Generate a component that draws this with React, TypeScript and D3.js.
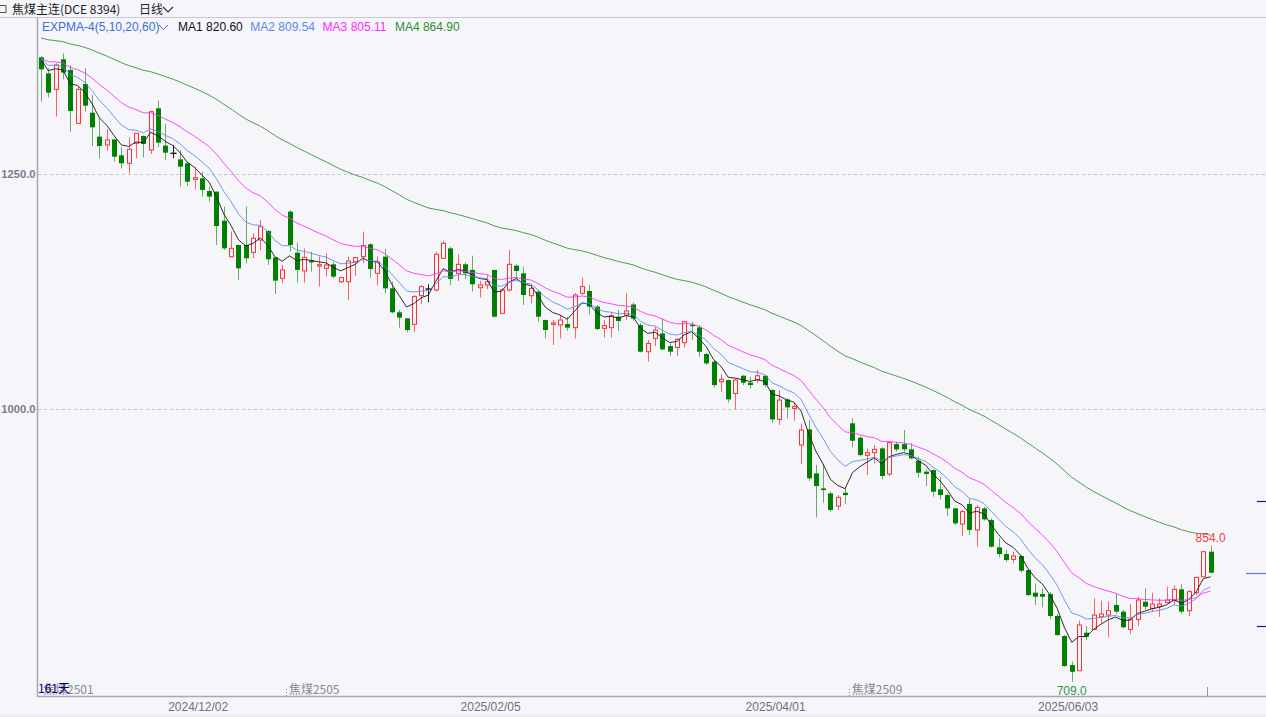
import React from 'react';
import * as d3 from 'd3';

const W = 1266;
const H = 717;

// [open, high, low, close] per trading day, 161 days
const ohlc: [number, number, number, number][] = [
  [1374.3, 1376.0, 1327.1, 1361.5], [1357.2, 1362.6, 1331.7, 1336.6], [1340.2, 1367.9, 1311.1, 1366.1],
  [1372.2, 1378.5, 1350.8, 1358.0], [1360.8, 1366.1, 1295.1, 1317.1], [1304.0, 1343.0, 1303.3, 1340.2],
  [1345.9, 1362.6, 1316.4, 1322.8], [1315.3, 1334.2, 1279.8, 1299.7], [1289.8, 1309.3, 1266.7, 1279.8],
  [1280.9, 1297.6, 1274.9, 1286.2], [1286.9, 1287.0, 1263.1, 1268.5], [1269.9, 1279.1, 1256.0, 1261.4],
  [1261.4, 1289.1, 1250.7, 1276.3], [1282.7, 1293.5, 1266.7, 1293.3], [1290.5, 1291.0, 1267.8, 1282.0],
  [1275.6, 1317.0, 1271.3, 1316.4], [1320.0, 1328.1, 1278.4, 1283.4], [1280.2, 1303.3, 1264.9, 1272.7],
  [1272.0, 1280.9, 1266.7, 1272.0], [1265.6, 1275.6, 1236.5, 1257.8], [1261.4, 1263.1, 1237.2, 1241.8],
  [1244.3, 1257.8, 1233.7, 1246.0], [1245.4, 1252.5, 1225.9, 1233.0], [1231.9, 1236.5, 1220.5, 1225.9],
  [1231.2, 1231.5, 1174.4, 1194.6], [1200.3, 1215.2, 1169.0, 1170.8], [1161.9, 1188.6, 1161.2, 1170.8],
  [1174.4, 1174.6, 1137.1, 1149.5], [1174.4, 1215.2, 1154.8, 1160.2], [1166.6, 1186.8, 1160.2, 1181.5],
  [1179.7, 1201.0, 1169.0, 1193.9], [1189.3, 1190.0, 1153.1, 1159.1], [1161.2, 1161.5, 1122.2, 1136.4],
  [1138.9, 1153.1, 1133.5, 1147.8], [1209.9, 1211.7, 1167.3, 1174.4], [1166.2, 1176.9, 1134.2, 1147.8],
  [1146.7, 1170.8, 1134.2, 1161.2], [1157.7, 1167.3, 1145.9, 1155.9], [1152.0, 1162.0, 1130.0, 1153.4],
  [1149.5, 1165.5, 1140.6, 1153.1], [1153.8, 1156.0, 1138.9, 1140.7], [1135.3, 1140.7, 1133.6, 1139.6],
  [1135.3, 1162.0, 1115.8, 1157.3], [1156.6, 1162.0, 1141.7, 1160.9], [1162.0, 1188.6, 1154.9, 1173.7],
  [1175.1, 1176.2, 1139.6, 1148.8], [1144.2, 1162.0, 1131.1, 1156.6], [1162.0, 1170.1, 1122.9, 1128.2],
  [1128.2, 1135.3, 1101.6, 1102.7], [1102.7, 1105.2, 1086.3, 1097.0], [1096.3, 1096.5, 1081.4, 1083.8],
  [1089.9, 1121.1, 1081.4, 1119.4], [1120.4, 1131.8, 1111.2, 1130.0], [1127.5, 1132.5, 1113.3, 1127.5],
  [1126.5, 1167.3, 1124.7, 1164.5], [1160.2, 1178.7, 1159.5, 1176.2], [1170.8, 1172.6, 1131.8, 1138.2],
  [1144.2, 1164.5, 1136.1, 1153.8], [1153.8, 1155.9, 1138.2, 1144.2], [1147.8, 1163.0, 1124.7, 1132.5],
  [1128.9, 1136.1, 1118.3, 1131.8], [1131.8, 1142.4, 1127.5, 1135.3], [1147.8, 1148.0, 1097.0, 1098.0],
  [1101.6, 1128.2, 1100.5, 1126.5], [1126.5, 1169.0, 1124.7, 1153.8], [1152.4, 1153.8, 1138.2, 1146.7],
  [1144.2, 1151.3, 1110.5, 1121.1], [1120.4, 1131.8, 1112.3, 1128.2], [1124.7, 1126.5, 1092.7, 1098.0],
  [1094.5, 1094.7, 1075.0, 1083.8], [1089.9, 1094.5, 1067.9, 1091.3], [1089.2, 1099.8, 1075.0, 1094.5],
  [1090.2, 1098.0, 1082.8, 1086.3], [1086.3, 1122.9, 1075.0, 1121.1], [1122.9, 1139.6, 1121.1, 1130.0],
  [1125.4, 1131.8, 1100.5, 1108.7], [1108.7, 1110.5, 1083.8, 1084.9], [1085.6, 1094.5, 1075.7, 1088.5],
  [1086.3, 1102.7, 1075.7, 1099.1], [1098.0, 1105.2, 1082.8, 1093.4], [1099.8, 1122.9, 1094.5, 1104.1],
  [1111.0, 1113.0, 1094.0, 1096.0], [1089.1, 1091.0, 1060.0, 1060.7], [1060.7, 1073.1, 1050.1, 1069.6],
  [1074.9, 1087.3, 1066.7, 1083.8], [1080.2, 1096.2, 1061.8, 1063.2], [1066.7, 1069.6, 1056.1, 1060.7],
  [1065.3, 1074.9, 1056.1, 1073.9], [1070.3, 1093.7, 1065.3, 1092.7], [1089.5, 1092.7, 1073.1, 1088.9],
  [1086.6, 1089.1, 1055.4, 1060.7], [1058.2, 1059.6, 1046.5, 1048.3], [1050.1, 1051.8, 1022.7, 1025.2],
  [1028.8, 1036.9, 1018.1, 1031.2], [1030.5, 1031.2, 1006.4, 1009.9], [1016.3, 1032.3, 999.3, 1030.5],
  [1035.1, 1035.9, 1025.2, 1027.7], [1027.7, 1034.1, 1021.6, 1025.2], [1030.5, 1041.2, 1027.7, 1035.1],
  [1035.1, 1035.9, 1022.7, 1025.2], [1019.9, 1020.6, 985.1, 988.6], [988.6, 1019.9, 982.6, 1009.2],
  [1009.9, 1011.0, 989.7, 1001.4], [1000.3, 1006.4, 987.2, 1002.1], [961.3, 984.4, 941.0, 977.3],
  [978.0, 987.9, 923.3, 925.8], [931.1, 940.0, 884.2, 917.6], [915.1, 941.0, 899.9, 913.3],
  [909.8, 911.6, 890.3, 892.1], [896.3, 908.0, 892.1, 905.5], [910.5, 916.2, 898.4, 908.0],
  [984.4, 989.7, 958.8, 965.9], [969.1, 970.9, 948.9, 950.6], [950.3, 957.7, 929.3, 953.1],
  [953.1, 961.3, 941.8, 956.7], [957.7, 958.8, 924.7, 928.3], [930.4, 964.8, 928.3, 963.8],
  [962.3, 964.8, 954.2, 956.7], [962.3, 977.3, 954.2, 956.7], [956.7, 963.1, 946.0, 947.1],
  [944.6, 948.9, 926.8, 931.8], [932.9, 935.4, 917.6, 930.4], [934.6, 935.4, 906.2, 911.6],
  [914.1, 927.6, 903.4, 908.0], [908.0, 909.8, 885.7, 893.8], [893.8, 894.0, 876.1, 877.9],
  [877.2, 892.1, 864.4, 890.3], [898.5, 904.5, 865.4, 870.8], [870.8, 897.4, 853.0, 894.9],
  [893.8, 895.6, 880.7, 882.1], [881.4, 883.2, 852.3, 853.0], [852.3, 861.9, 841.6, 845.2],
  [845.2, 849.5, 837.0, 838.8], [839.5, 847.7, 835.3, 843.1], [843.1, 844.1, 825.3, 827.4],
  [828.1, 828.9, 800.4, 801.5], [804.0, 813.9, 790.9, 799.7], [802.6, 808.6, 788.4, 799.7],
  [802.6, 805.1, 775.6, 779.2], [779.2, 781.3, 757.8, 758.9], [757.8, 758.9, 725.2, 725.9],
  [726.9, 730.5, 709.0, 719.8], [720.9, 774.2, 720.9, 769.6], [761.4, 768.5, 753.6, 757.1],
  [764.9, 798.0, 764.2, 780.2], [778.4, 795.5, 771.3, 781.3], [780.2, 794.4, 756.4, 784.8],
  [790.9, 802.6, 781.3, 783.8], [783.8, 785.6, 766.0, 767.1], [764.9, 791.9, 760.0, 775.6],
  [775.6, 799.7, 768.5, 796.2], [794.4, 808.6, 785.6, 789.1], [787.3, 804.0, 783.8, 791.9],
  [789.1, 798.0, 778.4, 791.9], [793.4, 810.4, 792.7, 796.2], [795.5, 812.2, 790.9, 807.6],
  [807.6, 813.3, 781.3, 783.8], [784.8, 806.8, 779.2, 805.1], [804.0, 821.0, 801.5, 820.3],
  [821.0, 848.7, 821.0, 847.7], [847.7, 854.0, 824.6, 825.3],
];

const dateTicks = [
  { i: 22, label: '2024/12/02' },
  { i: 62, label: '2025/02/05' },
  { i: 101, label: '2025/04/01' },
  { i: 141, label: '2025/06/03' },
];
const yTicks = [1250, 1000];
const contracts = [
  { i: 0, label: '焦煤2501' },
  { i: 34, label: '焦煤2505' },
  { i: 111, label: '焦煤2509' },
];
const emaPeriods = [5, 10, 20, 60];
const emaSeeds = [1377, 1374.6, 1374.4, 1396];
const emaColors = ['#1a1a1a', '#5b8ae8', '#ff2cff', '#2f8f2f'];
const legendNames = ['MA1', 'MA2', 'MA3', 'MA4'];
const legendValues = ['820.60', '809.54', '805.11', '864.90'];
const rightMarks = [
  { price: 901.7, long: false },
  { price: 825.3, long: true },
  { price: 768.5, long: false },
];
const monthMarkIndex = 159.5;

const BG = '#f5f5fa';
const RED = '#ff3030';
const GREEN = '#008000';
const AXIS = '#a8a8b0';

function ema(values: number[], n: number, seed: number): number[] {
  const a = 2 / (n + 1);
  const out: number[] = [];
  let prev = seed;
  for (const v of values) {
    prev = a * v + (1 - a) * prev;
    out.push(prev);
  }
  return out;
}

export default function App() {
  const x = d3.scaleLinear().domain([0, ohlc.length - 1]).range([41, 1210.6]);
  const y = d3.scaleLinear().domain([1000, 1250]).range([408.7, 174]);
  const closes = ohlc.map((d) => d[3]);
  const emas = emaPeriods.map((p, k) => ema(closes, p, emaSeeds[k]));
  const line = d3
    .line<number>()
    .x((_, i) => x(i))
    .y((d) => y(d));

  const lowIdx = d3.minIndex(ohlc, (d) => d[2]);
  const highIdx = ohlc.length - 1;
  const font = "'Liberation Sans', Arial, sans-serif";
  const cjk = "'Noto Sans CJK SC', 'Liberation Sans', sans-serif";

  return (
    <div style={{ position: 'absolute', left: 0, top: 0 }}>
      <svg width={W} height={H} style={{ display: 'block', background: BG }}>
        <rect x={0} y={0} width={W} height={H} fill={BG} />
        {/* title bar */}
        <rect x={-3} y={5.5} width={9} height={7} fill="none" stroke="#555" strokeWidth={1} />
        <text x={12} y={14} fontFamily={cjk} fontSize={12} fill="#222">焦煤主连(DCE 8394)</text>
        <text x={139} y={14} fontFamily={cjk} fontSize={12} fill="#222">日线</text>
        <polyline points="163,7 168,12 173,7" fill="none" stroke="#333" strokeWidth={1.2} />
        <line x1={0} x2={W} y1={17.5} y2={17.5} stroke="#c8c8d0" />
        {/* axes */}
        <line x1={37.5} x2={37.5} y1={17.5} y2={697} stroke={AXIS} strokeWidth={1.5} />
        <line x1={37} x2={W} y1={696.5} y2={696.5} stroke={AXIS} strokeWidth={1.5} />
        <line x1={0} x2={W} y1={716} y2={716} stroke="#e2e2ea" />
        {/* grid */}
        {yTicks.map((t) => (
          <g key={t}>
            <line x1={38} x2={W} y1={Math.round(y(t)) + 0.5} y2={Math.round(y(t)) + 0.5} stroke="#c4c4cc" strokeDasharray="3,3" />
            <text x={35.5} y={y(t) + 4} textAnchor="end" fontFamily={font} fontSize={11.2} fontWeight="bold" fill="#7c7c8c">
              {t.toFixed(1)}
            </text>
          </g>
        ))}
        {/* legend */}
        <text x={42} y={31} fontFamily={font} fontSize={12} fill="#3d6fd6">EXPMA-4(5,10,20,60)</text>
        <polyline points="159,25 163.5,29.5 168,25" fill="none" stroke="#3d6fd6" strokeWidth={1} />
        {legendNames.map((n, k) => (
          <text key={n} x={178 + k * 72.3} y={31} fontFamily={font} fontSize={12} fill={k === 0 ? '#111' : emaColors[k]}>
            {n} {legendValues[k]}
          </text>
        ))}
        {/* candles */}
        {ohlc.map((d, i) => {
          const [o, h, l, c] = d;
          const xc = Math.round(x(i)) + 0.5;
          if (c > o) {
            const top = y(c);
            const bot = y(o);
            return (
              <g key={i}>
                <line x1={xc} x2={xc} y1={y(h)} y2={top} stroke={RED} strokeOpacity={0.75} />
                <line x1={xc} x2={xc} y1={bot} y2={y(l)} stroke={RED} strokeOpacity={0.75} />
                <rect x={xc - 2} y={top} width={4} height={Math.max(bot - top, 1)} fill={BG} stroke={RED} strokeWidth={1} />
              </g>
            );
          }
          if (c === o) {
            return (
              <g key={i}>
                <line x1={xc} x2={xc} y1={y(h)} y2={y(l)} stroke="#222" />
                <line x1={xc - 3} x2={xc + 3} y1={y(o)} y2={y(o)} stroke="#222" strokeWidth={1.5} />
              </g>
            );
          }
          const top = y(o);
          const bot = y(c);
          return (
            <g key={i}>
              <line x1={xc} x2={xc} y1={y(h)} y2={y(l)} stroke={GREEN} strokeOpacity={0.6} />
              <rect x={xc - 2.5} y={top} width={5} height={Math.max(bot - top, 1.5)} fill={GREEN} />
            </g>
          );
        })}
        {/* EMA lines */}
        {emas.map((e, k) => (
          <path key={k} d={line(e) || ''} fill="none" stroke={emaColors[k]} strokeWidth={1} strokeOpacity={k === 0 ? 0.9 : 0.85} />
        ))}
        {/* high / low labels */}
        <text x={x(highIdx)} y={y(ohlc[highIdx][1]) - 4} textAnchor="middle" fontFamily={font} fontSize={12} fill="#ff3b3b">
          {ohlc[highIdx][1].toFixed(1)}
        </text>
        <text x={x(lowIdx)} y={y(ohlc[lowIdx][2]) + 13} textAnchor="middle" fontFamily={font} fontSize={12} fill="#2e9a3e">
          {ohlc[lowIdx][2].toFixed(1)}
        </text>
        {/* contract roll markers */}
        {contracts.map((c) => (
          <g key={c.label}>
            {c.i > 0 && (
              <line x1={Math.round(x(c.i - 0.5)) + 0.5} x2={Math.round(x(c.i - 0.5)) + 0.5} y1={689} y2={697} stroke="#888" strokeDasharray="1,2" />
            )}
            <text x={c.i > 0 ? x(c.i - 0.5) + 3 : 43} y={694} fontFamily={cjk} fontSize={12} fill="#8a8a8a">
              {c.label}
            </text>
          </g>
        ))}
        <text x={38} y={693} fontFamily={cjk} fontSize={12} fill="#00008b">161天</text>
        <line x1={Math.round(x(monthMarkIndex)) + 0.5} x2={Math.round(x(monthMarkIndex)) + 0.5} y1={687} y2={697} stroke="#999" />
        {/* date labels */}
        {dateTicks.map((t) => (
          <text key={t.label} x={x(t.i - 0.5)} y={711} textAnchor="middle" fontFamily={font} fontSize={12} fill="#707078">
            {t.label}
          </text>
        ))}
        {/* right edge markers */}
        {rightMarks.map((m) => (
          <line
            key={m.price}
            x1={m.long ? 1246 : 1257}
            x2={W}
            y1={Math.round(y(m.price)) + 0.5}
            y2={Math.round(y(m.price)) + 0.5}
            stroke={m.long ? '#6a78d8' : '#1c1c8c'}
            strokeWidth={1.2}
          />
        ))}
      </svg>
    </div>
  );
}
